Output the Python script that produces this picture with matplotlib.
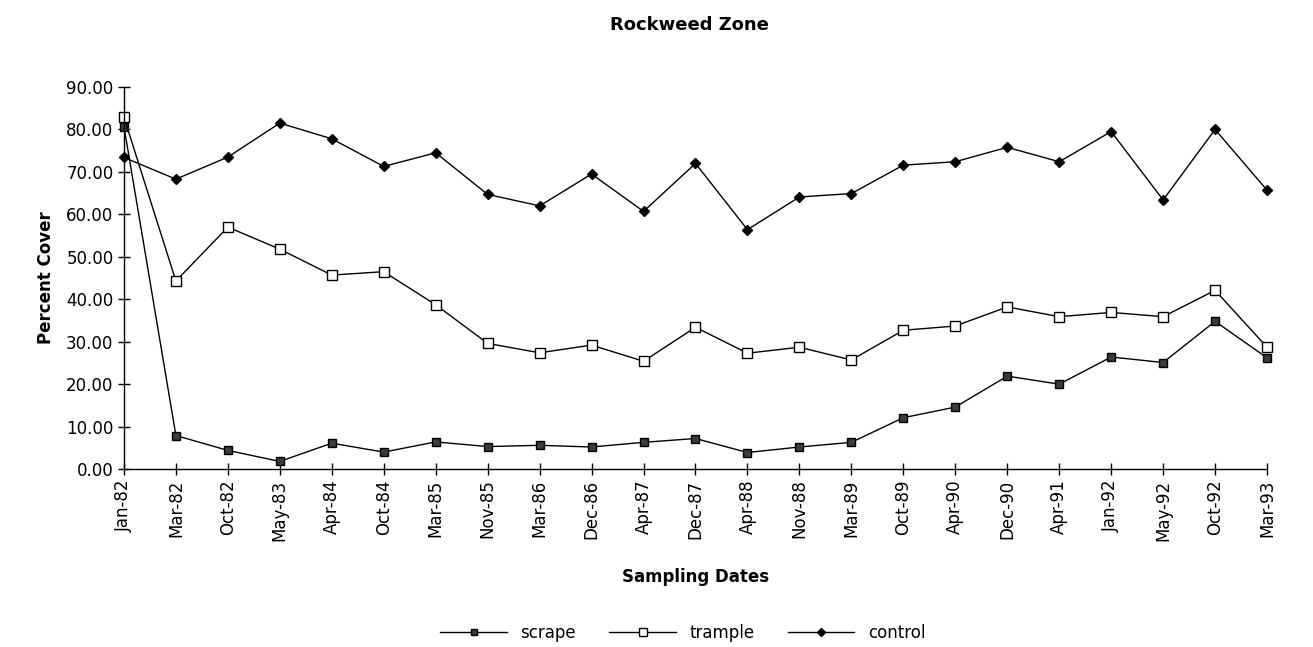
import matplotlib
matplotlib.use("Agg")
import matplotlib.pyplot as plt

dates = ["Jan-82", "Mar-82", "Oct-82", "May-83", "Apr-84", "Oct-84", "Mar-85",
         "Nov-85", "Mar-86", "Dec-86", "Apr-87", "Dec-87", "Apr-88", "Nov-88",
         "Mar-89", "Oct-89", "Apr-90", "Dec-90", "Apr-91", "Jan-92", "May-92",
         "Oct-92", "Mar-93"]

scrape = [80.7, 7.9, 4.4, 1.8, 6.1, 4.0, 6.4, 5.3, 5.6, 5.2, 6.3, 7.2, 3.9,
          5.2, 6.3, 12.1, 14.6, 21.9, 20.0, 26.4, 25.1, 34.8, 26.2]
trample = [82.9, 44.3, 57.0, 51.8, 45.7, 46.5, 38.7, 29.6, 27.4, 29.2, 25.4,
           33.4, 27.3, 28.7, 25.7, 32.7, 33.7, 38.2, 35.9, 36.9, 35.9, 42.1, 28.7]
control = [73.4, 68.3, 73.5, 81.5, 77.8, 71.3, 74.5, 64.7, 62.0, 69.5, 60.7,
           72.0, 56.4, 64.1, 64.9, 71.6, 72.4, 75.8, 72.4, 79.5, 63.4, 80.0, 65.7]

plt.rcParams["font.family"] = ["DejaVu Sans"]

fig = plt.figure(figsize=(13.13, 6.47), dpi=100)
ax = fig.add_axes([0.0944, 0.275, 0.8706, 0.5905])

x = list(range(len(dates)))
ax.plot(x, scrape, color="black", lw=1, marker="s", ms=5.5,
        mfc="#3a3a3a", mec="black", mew=1, label="scrape")
ax.plot(x, trample, color="black", lw=1, marker="s", ms=7.5,
        mfc="white", mec="black", mew=1, label="trample")
ax.plot(x, control, color="black", lw=1, marker="D", ms=5,
        mfc="black", mec="black", label="control")

ax.set_xlim(0, len(dates) - 1)
ax.set_ylim(0, 90)
ax.set_yticks(range(0, 91, 10))
ax.set_yticklabels([f"{v:.2f}" for v in range(0, 91, 10)], fontsize=12)
ax.set_xticks(x)
ax.set_xticklabels(dates, rotation=90, fontsize=12)
ax.tick_params(direction="inout", length=8, width=1)

for s in ["top", "right"]:
    ax.spines[s].set_visible(False)
ax.spines["left"].set_linewidth(1)
ax.spines["bottom"].set_linewidth(1)
for ln in ax.lines:
    ln.set_clip_on(False)

ax.set_ylabel("Percent Cover", fontsize=12, fontweight="bold", labelpad=8)
ax.set_xlabel("Sampling Dates", fontsize=12, fontweight="bold", labelpad=20)
fig.suptitle("Rockweed Zone", x=0.525, y=0.975, fontsize=13, fontweight="bold")

fig.legend(loc="center", bbox_to_anchor=(0.52, 0.022), ncol=3, frameon=False,
           fontsize=12, handlelength=4, columnspacing=2.0, markerscale=0.8)

fig.savefig("out.png", dpi=100)
